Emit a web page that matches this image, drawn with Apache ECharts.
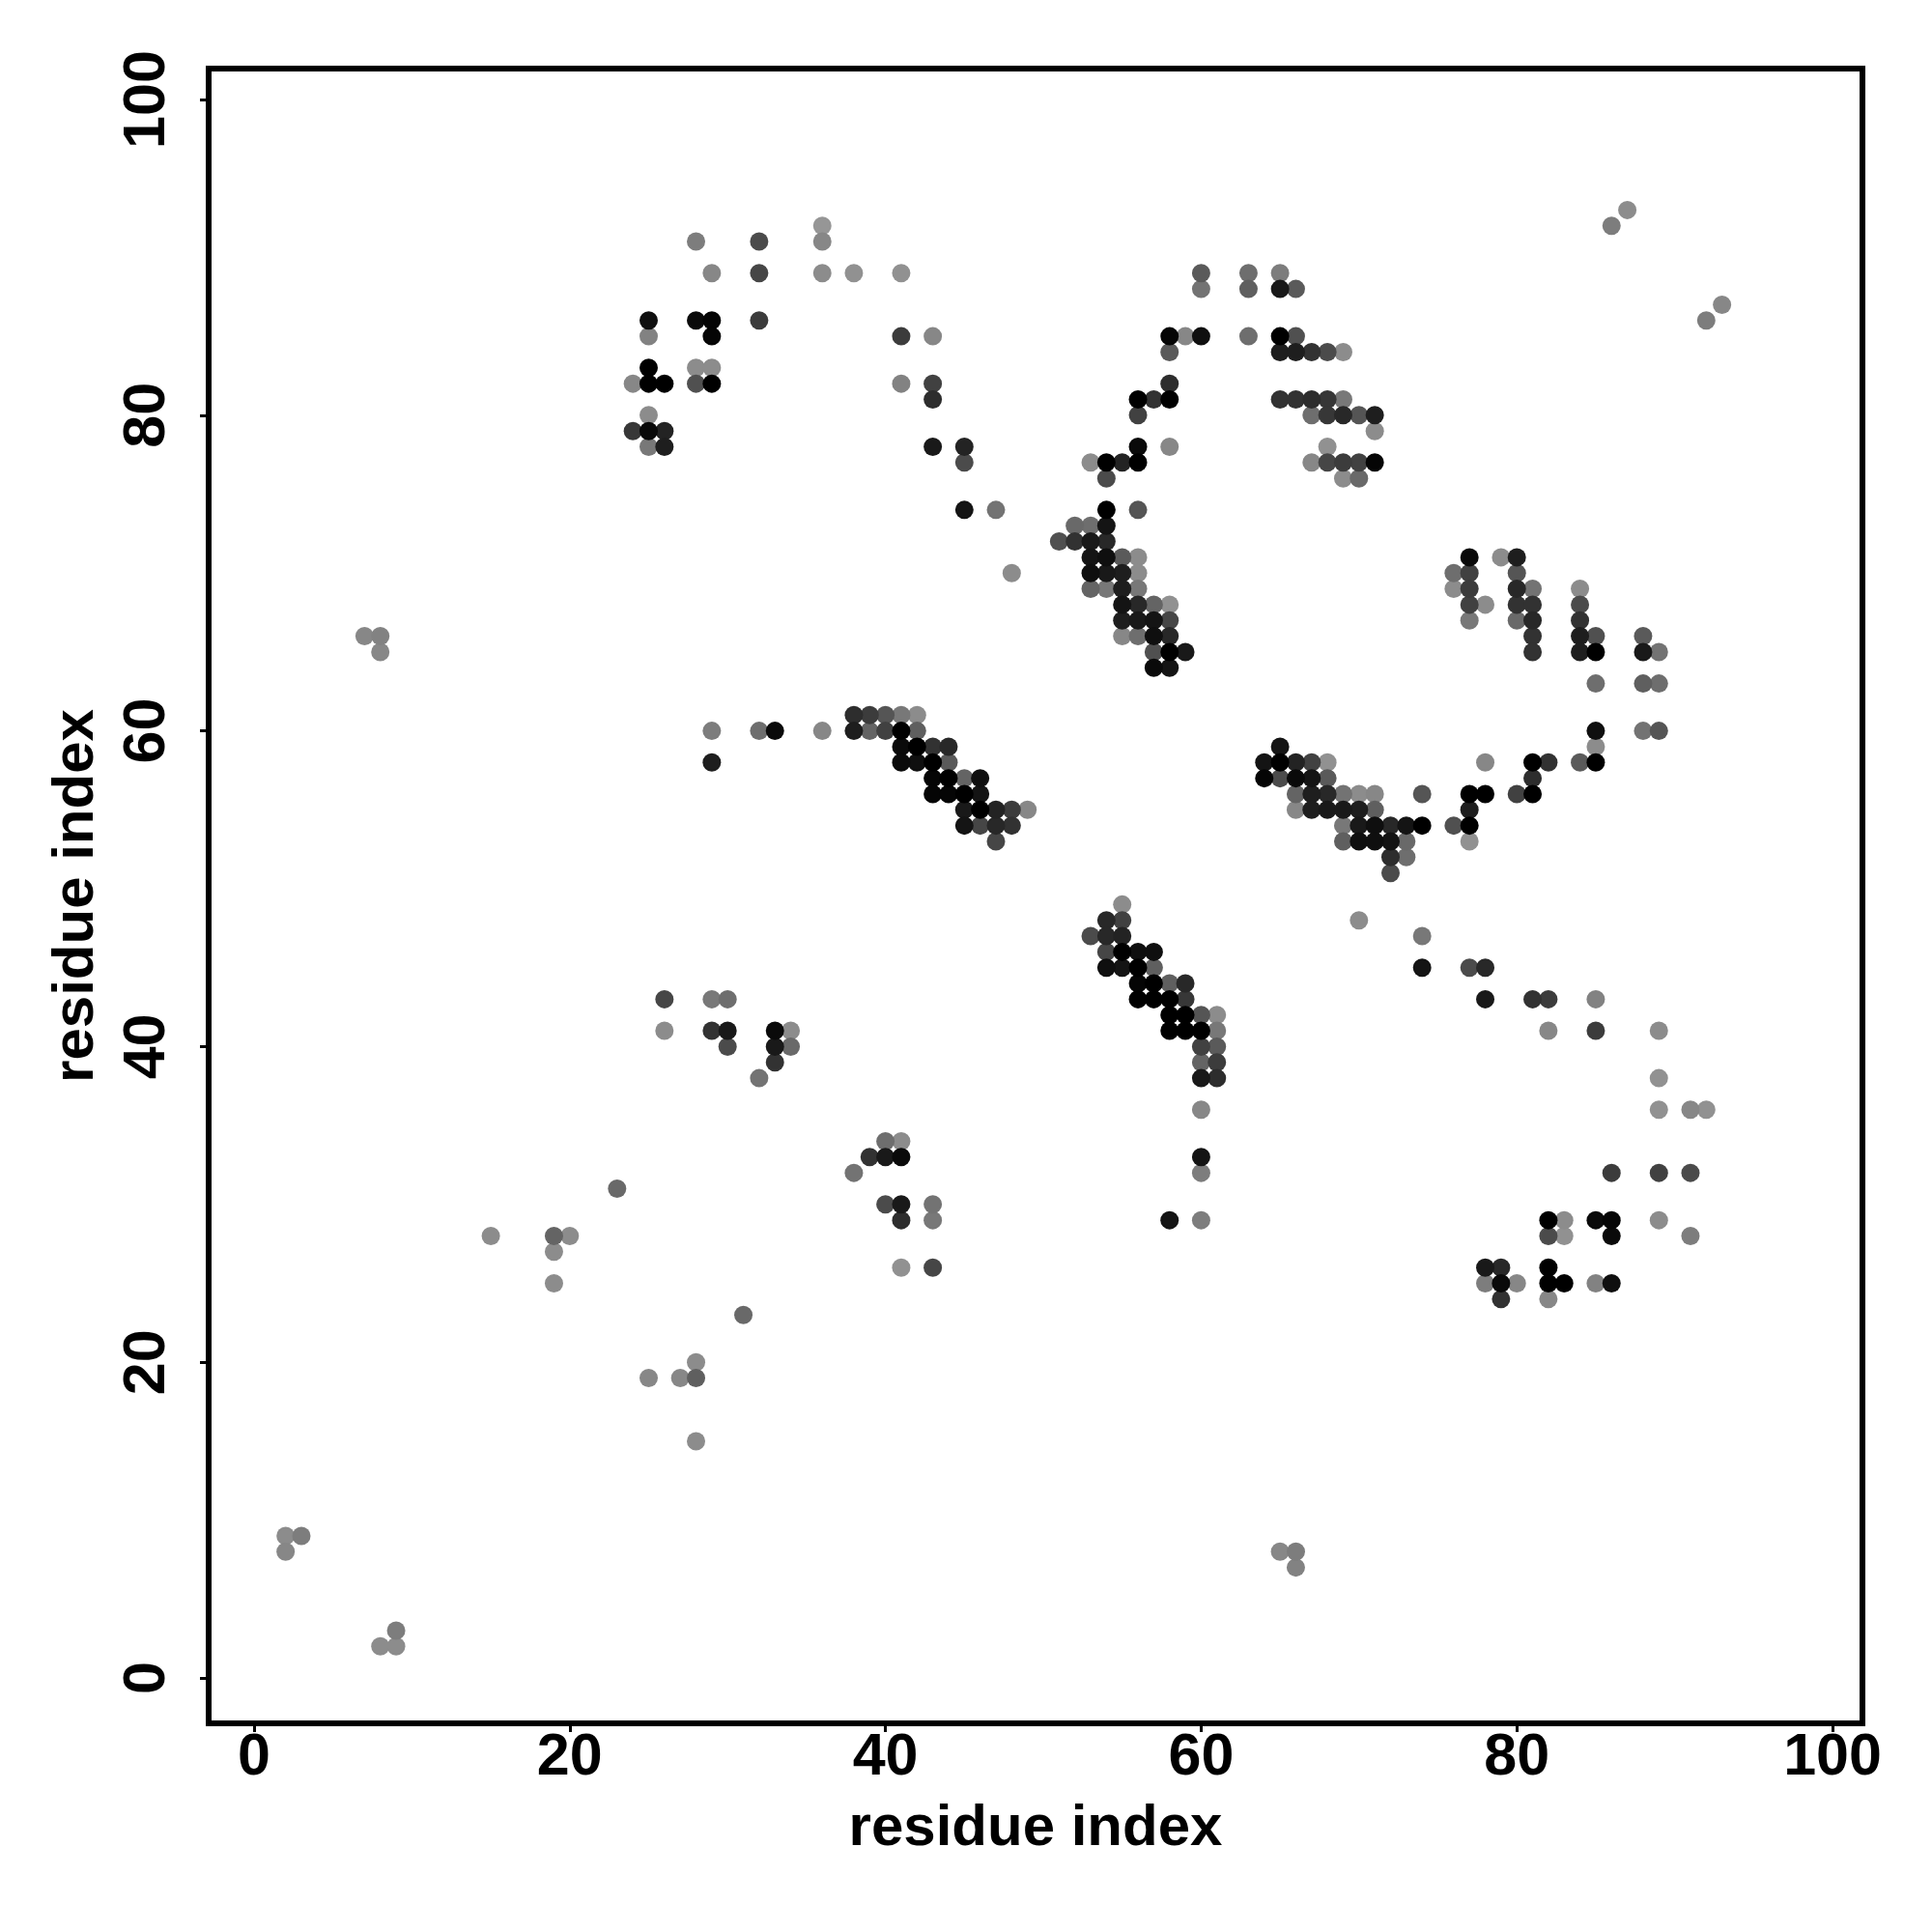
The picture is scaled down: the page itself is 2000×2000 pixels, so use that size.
<!DOCTYPE html>
<html>
<head>
<meta charset="utf-8">
<style>html,body{margin:0;padding:0;background:#fff}#c{width:2000px;height:2000px}</style>
<script src="https://cdn.jsdelivr.net/npm/echarts@6/dist/echarts.min.js"></script>
</head>
<body>
<div id="c"></div>
<script>
const axisTitle = 'residue index';
const tickValues = [0, 20, 40, 60, 80, 100];
const rowIndex = [93,92,91,89,88,87,86,85,84,83,82,81,80,79,78,77,76,74,73,72,71,70,69,68,67,66,65,64,63,61,60,59,58,57,56,55,54,53,52,51,49,48,47,46,45,44,43,42,41,40,39,38,36,34,33,32,31,30,29,28,27,26,25,24,23,20,19,15,9,8,7,3,2];
const rowColumns = [
[87],[36,86],[28,32,36],[29,32,36,38,41,60,63,65],[60,63,65,66],[93],[25,28,29,32,92],
[25,29,41,43,58,59,60,63,65,66],[58,65,66,67,68,69],[25,28,29],[24,25,26,28,29,41,43,58],
[43,56,57,58,65,66,67,68,69],[25,56,67,68,69,70,71],[24,25,26,71],[25,26,43,45,56,58,68],
[45,53,54,55,56,67,68,69,70,71],[54,69,70],[45,47,54,56],[52,53,54],[51,52,53,54],
[53,54,55,56,77,79,80],[48,53,54,55,56,76,77,80],[53,54,55,56,76,77,80,81,84],
[55,56,57,58,77,78,80,81,84],[55,56,57,58,77,80,81,84],[7,8,55,56,57,58,81,84,85,88],
[8,57,58,59,81,84,85,88,89],[57,58],[85,88,89],[38,39,40,41,42],
[29,32,33,36,38,39,40,41,42,85,88,89],[41,42,43,44,65,85],
[29,41,42,43,44,64,65,66,67,68,78,81,82,84,85],[43,44,45,46,64,65,66,67,68,81],
[43,44,45,46,66,67,68,69,70,71,74,77,78,80,81],[45,46,47,48,49,66,67,68,69,70,71,77],
[45,46,47,48,69,70,71,72,73,74,76,77],[47,69,70,71,72,73,77],[72,73],[72],[55],[54,55,70],
[53,54,55,74],[54,55,56,57],[54,55,56,57,74,77,78],[56,57,58,59],
[26,29,30,56,57,58,59,78,81,82,85],[58,59,60,61],[26,29,30,33,34,58,59,60,61,82,85,89],
[30,33,34,60,61],[33,60,61],[32,60,61,89],[60,89,91,92],[40,41],[39,40,41,60],
[38,60,86,89,91],[23],[40,41,43],[41,43,58,60,82,83,85,86,89],[15,19,20,82,83,86,91],[19],
[41,43,78,79,82],[19,78,79,80,82,83,85,86],[79,82],[31],[28],[25,27,28],[28],[2,3],[2,65,66],[66],[9],[8,9]
];
const rowShades = [
[140],[150,125],[125,75,135],[135,70,140,145,145,90,110,125],[115,95,25,90],[135],[15,10,5,60,125],
[130,5,60,135,5,135,15,110,0,80],[90,30,30,50,75,140],[0,140,140],[135,0,0,80,0,130,65,45],
[45,0,50,0,50,50,45,55,120],[140,65,110,55,40,85,30],[55,10,35,140],[120,30,25,35,10,135,145],
[75,140,0,35,0,135,70,60,65,5],[75,140,105],[20,115,0,85],[105,110,20],[80,50,25,40],
[20,15,90,140,10,140,30],[140,15,25,30,140,110,65,85],[100,120,30,120,140,60,40,115,140],
[20,40,100,145,65,140,50,50,75],[30,25,20,70,120,105,40,50],[135,130,135,110,15,40,50,30,80,90],
[135,80,0,25,50,30,0,25,115],[10,20],[110,95,110],[45,60,85,120,140],
[125,110,10,135,30,100,65,0,95,15,115,85],[10,0,50,40,20,140],
[30,10,15,0,90,20,0,35,65,145,135,0,50,90,0],[5,0,100,15,5,75,10,20,90,45],
[5,5,0,20,100,30,40,115,140,135,85,0,0,65,0],[25,0,35,60,135,135,30,25,25,30,95,30],
[20,70,40,50,120,25,15,40,20,0,80,0],[70,95,15,15,20,105,145],[45,110],[75],[140],[40,65,140],
[75,40,35,120],[70,0,15,15],[15,20,0,95,20,75,40],[5,0,95,40],
[70,120,110,0,0,0,55,25,50,60,130],[0,0,85,140],[140,50,25,10,140,0,0,0,120,135,60,140],
[75,25,105,65,90],[50,100,60],[115,25,45,145],[135,145,135,145],[110,140],[50,25,10,20],
[115,125,60,65,75],[105],[75,25,115],[45,120,20,125,0,140,10,5,140],[140,100,140,75,145,10,125],[140],
[145,70,25,40,0],[140,125,10,135,0,0,130,15],[50,135],[105],[140],[135,135,95],[140],[140,125],[135,135,125],[130],[125],[140,140]
];

const points = [];
rowIndex.forEach((y, r) => rowColumns[r].forEach((x, k) => points.push([x, y, rowShades[r][k]])));
points.sort((a, b) => b[2] - a[2]);

const labelFont = {color: '#000', fontFamily: 'Liberation Sans', fontWeight: 'bold', fontSize: 61};
const axisCommon = {
  type: 'value',
  name: axisTitle,
  nameLocation: 'middle',
  nameTextStyle: {color: '#000', fontFamily: 'Liberation Sans', fontWeight: 'bold', fontSize: 60},
  splitLine: {show: false},
  axisLine: {show: false, onZero: false},
  axisTick: {show: true, length: 9, inside: false, customValues: tickValues, lineStyle: {color: '#000', width: 3}}
};
const chart = echarts.init(document.getElementById('c'), null, {renderer: 'canvas'});
chart.setOption({
  animation: false,
  backgroundColor: '#fff',
  grid: {show: true, left: 216, top: 71, width: 1712, height: 1713, borderColor: '#000', borderWidth: 6, containLabel: false},
  xAxis: Object.assign({}, axisCommon, {
    min: -2.876, max: 101.896, nameGap: 79,
    axisLabel: Object.assign({}, labelFont, {margin: 6, customValues: tickValues, showMinLabel: true, showMaxLabel: true})
  }),
  yAxis: Object.assign({}, axisCommon, {
    min: -2.876, max: 101.96, nameGap: 107,
    axisLabel: Object.assign({}, labelFont, {rotate: 90, margin: 32, customValues: tickValues, showMinLabel: true, showMaxLabel: true})
  }),
  series: [{
    type: 'scatter',
    data: points,
    symbol: 'circle',
    symbolSize: 19,
    clip: false,
    itemStyle: {opacity: 1, color: p => { const g = p.value[2]; return `rgb(${g},${g},${g})`; }}
  }]
});
</script>
</body>
</html>
